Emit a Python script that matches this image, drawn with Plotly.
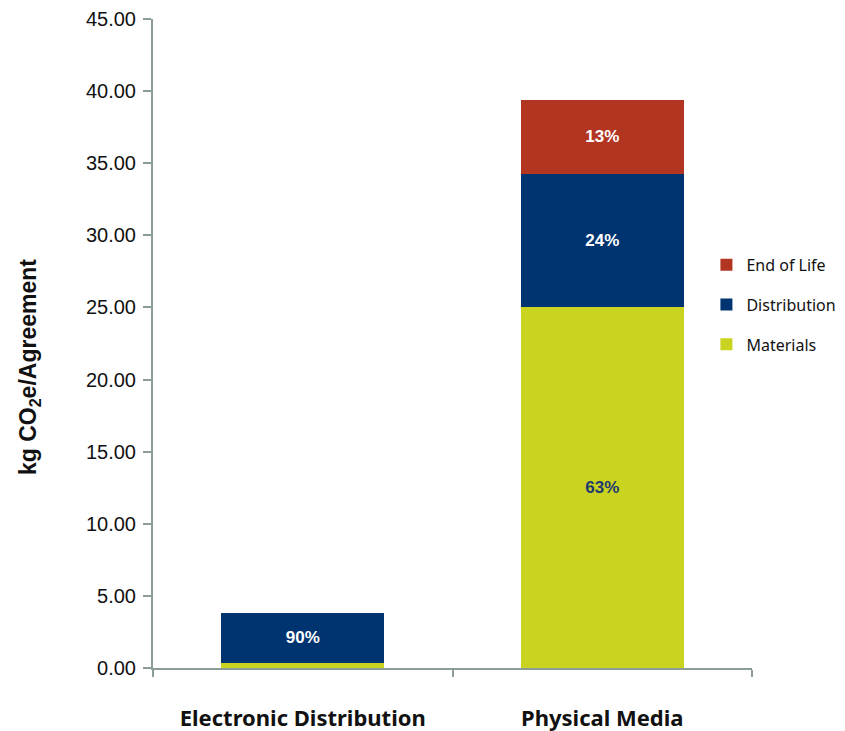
import plotly.graph_objects as go

categories = ["Electronic Distribution", "Physical Media"]
materials = [0.38, 25.0]
distribution = [3.43, 9.26]
end_of_life = [0.0, 5.13]
materials_labels = ["", "63%"]
distribution_labels = ["90%", "24%"]
eol_labels = ["", "13%"]
y_ticks = [0, 5, 10, 15, 20, 25, 30, 35, 40, 45]

axis_color = "#8c9c98"
label_font = "Liberation Sans"

fig = go.Figure()
series = [
    ("Materials", materials, "#cbd321", materials_labels, "#1f3a6e", 3),
    ("Distribution", distribution, "#003470", distribution_labels, "white", 2),
    ("End of Life", end_of_life, "#b23522", eol_labels, "white", 1),
]
for name, vals, color, labels, tcolor, rank in series:
    fig.add_trace(go.Bar(
        name=name, x=categories, y=vals, marker_color=color, legendgroup=name,
        legendrank=rank,
        text=labels, textposition="inside", insidetextanchor="middle",
        textfont=dict(color=tcolor, size=17, family=label_font, weight="bold"),
        width=0.545, marker_line_width=0))

fig.update_layout(
    barmode="stack",
    width=845, height=731,
    margin=dict(l=153, r=93, t=19, b=63, autoexpand=False),
    plot_bgcolor="white", paper_bgcolor="white",
    font=dict(family=label_font, color="#111111"),
    uniformtext=dict(mode="show", minsize=10),
    legend=dict(
        xref="container", yref="container",
        x=0.836, y=0.583, xanchor="left", yanchor="middle",
        traceorder="grouped", font=dict(size=16, family="Noto Sans", color="#111111"),
        itemwidth=30, tracegroupgap=16, bgcolor="rgba(0,0,0,0)"),
    showlegend=True,
)
fig.update_xaxes(
    range=[-0.5, 1.5], showline=True, linecolor=axis_color, linewidth=2,
    ticks="outside", tickson="boundaries", ticklen=7, tickwidth=2, tickcolor=axis_color,
    tickfont=dict(size=22, family="Noto Sans", weight="bold", color="#111111"),
    ticklabelstandoff=30, showgrid=False, zeroline=False, automargin=False,
)
fig.update_yaxes(
    range=[0, 45], tickvals=y_ticks, tickformat=".2f",
    showline=True, linecolor=axis_color, linewidth=2,
    ticks="outside", ticklen=8, tickwidth=2, tickcolor=axis_color,
    tickfont=dict(size=20, family=label_font, color="#111111"),
    ticklabelstandoff=3, showgrid=False, zeroline=False, automargin=False,
)
fig.add_annotation(
    text="kg CO<sub>2</sub>e/Agreement", xref="paper", yref="paper",
    x=-0.205, y=0.464, xanchor="center", yanchor="middle", textangle=-90,
    showarrow=False, font=dict(size=23, family=label_font, weight="bold", color="#111111"),
)

fig.write_html("out.html")
